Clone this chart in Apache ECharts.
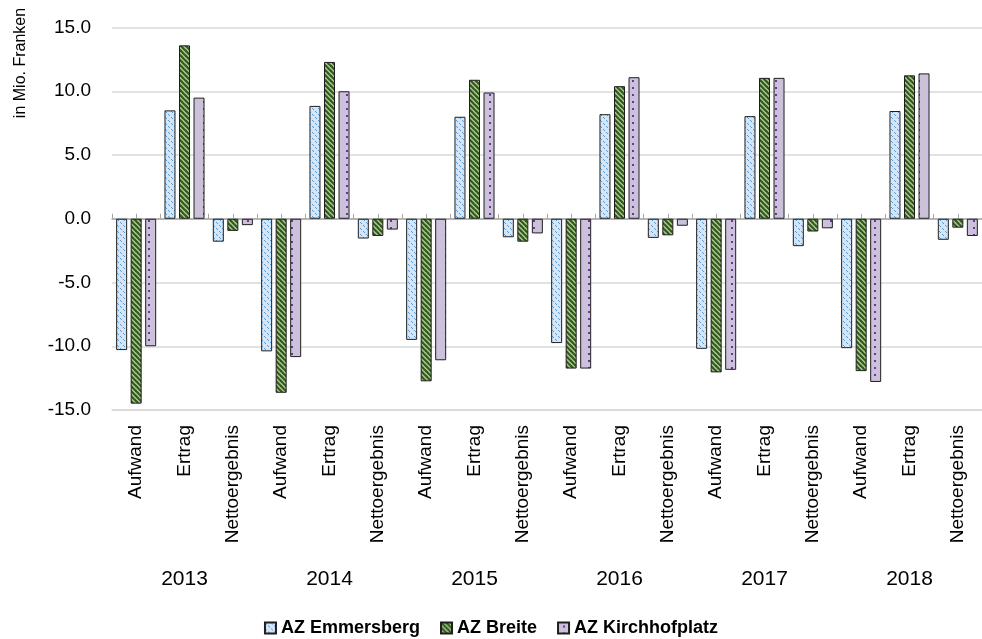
<!DOCTYPE html>
<html>
<head>
<meta charset="utf-8">
<script src="https://cdn.jsdelivr.net/npm/echarts@6/dist/echarts.min.js"></script>
<style>
html,body{margin:0;padding:0;background:#fff;}
#main{width:982px;height:639px;}
</style>
</head>
<body>
<div id="main"></div>
<script>
// Kategorien
var years = ['2013', '2014', '2015', '2016', '2017', '2018'];
var types = ['Aufwand', 'Ertrag', 'Nettoergebnis'];
var yTicks = [-15, -10, -5, 0, 5, 10, 15];

// Werte in Mio. Franken (Aufwand, Ertrag, Nettoergebnis je Jahr)
var emmersberg = [-10.3, 8.5, -1.8, -10.4, 8.85, -1.55, -9.5, 8.0, -1.45, -9.75, 8.2, -1.5, -10.2, 8.05, -2.15, -10.15, 8.45, -1.65];
var breite = [-14.5, 13.6, -0.95, -13.65, 12.3, -1.35, -12.75, 10.9, -1.8, -11.75, 10.4, -1.3, -12.05, 11.05, -1.0, -11.95, 11.25, -0.7];
var kirchhof = [-10.0, 9.5, -0.5, -10.85, 10.0, -0.85, -11.1, 9.9, -1.15, -11.75, 11.1, -0.55, -11.85, 11.05, -0.75, -12.8, 11.4, -1.35];

var categories = [];
years.forEach(function (y) { types.forEach(function (t) { categories.push(t); }); });

var FONT = "'Liberation Sans', Arial, sans-serif";

// Muster wie in der Excel-Vorlage
function makePattern(kind) {
	var c = document.createElement('canvas');
	var ctx;
	if (kind == 'blue') {
		c.width = 6; c.height = 6;
		ctx = c.getContext('2d');
		ctx.fillStyle = '#d5e5f5';
		ctx.fillRect(0, 0, 6, 6);
		ctx.fillStyle = '#5b9bd5';
		for (var i = 0; i < 6; i++) {
			if (i % 3 != 2) ctx.fillRect(i, i, 1, 1);
		}
	} else if (kind == 'green') {
		c.width = 5; c.height = 5;
		ctx = c.getContext('2d');
		ctx.fillStyle = '#a9d18e';
		ctx.fillRect(0, 0, 5, 5);
		ctx.strokeStyle = '#375623';
		ctx.lineWidth = 2.2;
		for (var k = -5; k <= 5; k += 5) {
			ctx.beginPath();
			ctx.moveTo(k - 1, -1);
			ctx.lineTo(k + 6, 6);
			ctx.stroke();
		}
	} else {
		c.width = 11; c.height = 7;
		ctx = c.getContext('2d');
		ctx.fillStyle = '#ccc1da';
		ctx.fillRect(0, 0, 11, 7);
		ctx.fillStyle = '#7030a0';
		ctx.fillRect(5, 3, 2, 2);
	}
	return { image: c, repeat: 'repeat' };
}

function barSeries(name, data, kind) {
	return {
		name: name,
		type: 'bar',
		xAxisIndex: 0,
		data: data,
		barWidth: 11,
		barGap: '32%',
		itemStyle: {
			color: makePattern(kind),
			borderColor: '#1f1f1f',
			borderWidth: 1
		}
	};
}

var myChart = echarts.init(document.getElementById('main'), null, { renderer: 'canvas' });

var option = {
	animation: false,
	backgroundColor: '#fff',
	grid: { left: 112, right: -10.5, top: 27.5, bottom: 229 },
	legend: {
		left: 'center',
		top: 614,
		itemWidth: 11,
		itemHeight: 11,
		itemGap: 20,
		icon: 'rect',
		textStyle: { fontFamily: FONT, fontSize: 18, fontWeight: 'bold', color: '#000' }
	},
	graphic: [{
		type: 'text',
		x: 21,
		y: 63,
		rotation: Math.PI / 2,
		style: {
			text: 'in Mio. Franken',
			fontFamily: FONT,
			fontSize: 16,
			fill: '#000',
			align: 'center',
			verticalAlign: 'middle'
		}
	}],
	xAxis: [{
		// Kategorien (Aufwand/Ertrag/Nettoergebnis)
		type: 'category',
		data: categories,
		position: 'bottom',
		axisLine: { onZero: false, lineStyle: { color: '#d9d9d9', width: 1.5 } },
		axisTick: { interval: 0, length: 140, lineStyle: { color: '#bfbfbf' } },
		axisLabel: {
			interval: 0,
			rotate: 90,
			margin: 15,
			fontFamily: FONT,
			fontSize: 19,
			color: '#000'
		}
	}, {
		// Jahre
		type: 'category',
		data: years,
		position: 'bottom',
		axisLine: { show: false, onZero: false },
		axisTick: { interval: 0, length: 183, lineStyle: { color: '#bfbfbf' } },
		axisLabel: {
			interval: 0,
			margin: 159,
			fontFamily: FONT,
			fontSize: 21,
			color: '#000'
		}
	}, {
		// Nulllinie mit Teilstrichen
		type: 'value',
		min: 0,
		max: 18,
		interval: 0.5,
		position: 'bottom',
		axisLine: { show: true, onZero: true, lineStyle: { color: '#a6a6a6', width: 1.5 } },
		axisTick: { show: true, inside: true, length: 5, lineStyle: { color: '#a6a6a6' } },
		axisLabel: { show: false },
		splitLine: { show: false }
	}],
	yAxis: {
		type: 'value',
		min: yTicks[0],
		max: yTicks[yTicks.length - 1],
		interval: 5,
		axisLine: { show: false },
		axisTick: { show: false },
		axisLabel: {
			margin: 21,
			fontFamily: FONT,
			fontSize: 19,
			color: '#000',
			formatter: function (v) { return v.toFixed(1); }
		},
		splitLine: { lineStyle: { color: '#d9d9d9', width: 1.5 } }
	},
	series: [
		barSeries('AZ Emmersberg', emmersberg, 'blue'),
		barSeries('AZ Breite', breite, 'green'),
		barSeries('AZ Kirchhofplatz', kirchhof, 'purple')
	]
};

myChart.setOption(option);
</script>
</body>
</html>
